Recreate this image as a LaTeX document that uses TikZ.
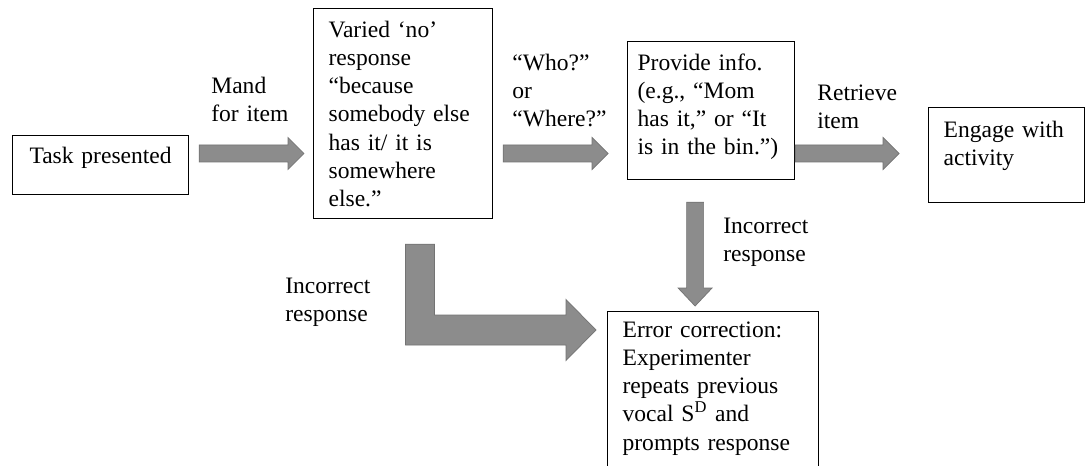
\documentclass[tikz,border=0pt]{standalone}
\usepackage{fontspec}
\setmainfont{Liberation Serif}
\usetikzlibrary{calc}
\definecolor{arrowgray}{RGB}{140,140,140}
\definecolor{arrowedge}{RGB}{115,115,115}

\tikzset{
  box/.style={draw, line width=0.7pt, anchor=north west, inner ysep=0pt,
              inner xsep=0.3cm, align=left},
  lbl/.style={anchor=north west, inner sep=0pt, align=left,
              text width=2.2cm, text height=0.3cm},
  blockarrow/.style={fill=arrowgray, draw=arrowedge, line width=0.4pt}
}

% horizontal block arrow: tail point, tip point
\newcommand{\blockarr}[2]{%
  \path[blockarrow] ($(#1)+(0,-8.5)$) -- ($(#2)+(-16,-8.5)$) -- ($(#2)+(-16,-16)$)
    -- (#2) -- ($(#2)+(-16,16)$) -- ($(#2)+(-16,8.5)$) -- ($(#1)+(0,8.5)$) -- cycle;}

\begin{document}
\begin{tikzpicture}[x=0.02cm, y=-0.02cm,
    every node/.style={font=\fontsize{13.4}{16}\selectfont}]
        \fill[white] (0,0) rectangle (1086,466);
        \clip (0,0) rectangle (1086,466);

        % BOXES
        \node[box, align=center, text width=2.92cm, text height=0.56cm,
              text depth=0.62cm] (task) at (12,135) {Task presented};
        \node[box, text width=2.98cm, text height=0.58cm,
              text depth=3.62cm] (varied) at (313,8)
              {Varied ‘no’\\ response\\ “because\\ somebody else\\ has it/ it is\\ somewhere\\ else.”};
        \node[box, inner xsep=0.2cm, text width=2.94cm, text height=0.58cm,
              text depth=2.18cm] (provide) at (627,41)
              {Provide info.\\ (e.g., “Mom\\ has it,” or “It\\ is in the bin.”)};
        \node[box, text width=2.52cm, text height=0.6cm,
              text depth=1.3cm] (engage) at (928,107) {Engage with\\ activity};
        \node[box, text width=3.62cm, text height=0.52cm,
              text depth=3.4cm] (err) at (607,311)
              {Error correction:\\ Experimenter\\ repeats previous\\ vocal S\textsuperscript{D} and\\ prompts response};

        % LABELS
        \node[lbl] (mand) at (211,78) {Mand\\ for item};
        \node[lbl] (who) at (512,55) {“Who?”\\ or\\ “Where?”};
        \node[lbl] (retrieve) at (817,85) {Retrieve\\ item};
        \node[lbl] (incright) at (723,218) {Incorrect\\ response};
        \node[lbl] (incleft) at (285,278) {Incorrect\\ response};

        % ARROWS
        \coordinate (mid) at (0,153.5);
        \coordinate (a1s) at ($(task.east |- mid)+(10,0)$);
        \coordinate (a1e) at ($(varied.west |- mid)+(-9,0)$);
        \coordinate (a2s) at ($(varied.east |- mid)+(10,0)$);
        \coordinate (a2e) at ($(provide.west |- mid)+(-19,0)$);
        \coordinate (a3s) at (provide.east |- mid);
        \coordinate (a3e) at ($(engage.west |- mid)+(-29,0)$);
        \blockarr{a1s}{a1e}
        \blockarr{a2s}{a2e}
        \blockarr{a3s}{a3e}

        \coordinate (dstart) at ($(provide.south)+(-16,22)$);
        \coordinate (dend) at ($(dstart |- err.north)+(0,-5)$);
        \path[blockarrow] ($(dstart)+(-8.5,0)$) -- ($(dend)+(-8.5,-18)$) -- ($(dend)+(-17,-18)$)
          -- (dend) -- ($(dend)+(17,-18)$) -- ($(dend)+(8.5,-18)$) -- ($(dstart)+(8.5,0)$) -- cycle;

        \coordinate (lstart) at ($(varied.south)+(17,25)$);
        \coordinate (lend) at ($(err.north west)+(-11,19)$);
        \path[blockarrow] ($(lstart)+(-14.5,0)$) -- ($(lstart)+(14.5,0)$)
          -- ($(lstart |- lend)+(14.5,-15)$) -- ($(lend)+(-30,-15)$) -- ($(lend)+(-30,-30.5)$)
          -- (lend) -- ($(lend)+(-30,30.5)$) -- ($(lend)+(-30,15)$)
          -- ($(lstart |- lend)+(-14.5,15)$) -- cycle;
      \end{tikzpicture}
\end{document}
